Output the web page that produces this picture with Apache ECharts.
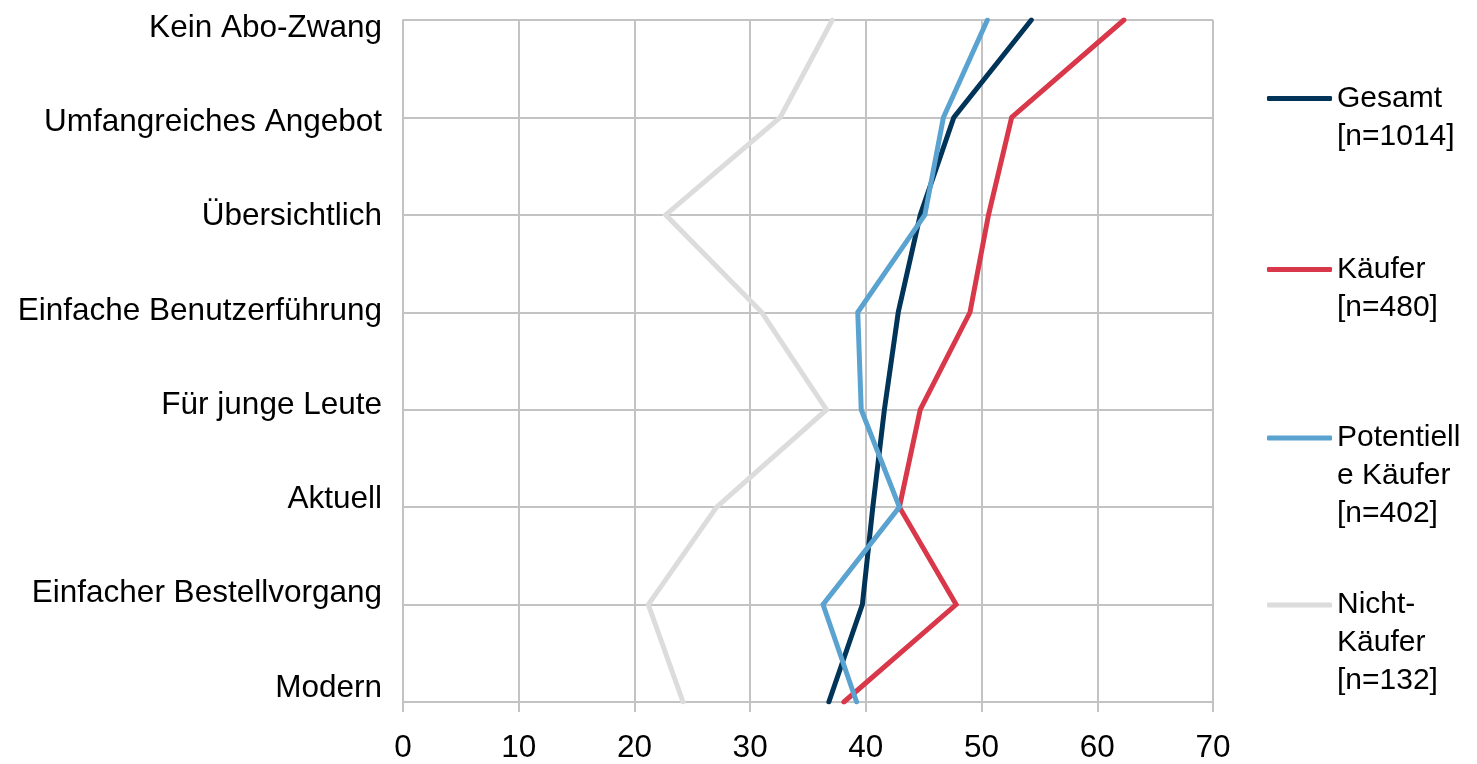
<!DOCTYPE html>
<html>
<head>
<meta charset="utf-8">
<script src="https://cdn.jsdelivr.net/npm/echarts@6/dist/echarts.min.js"></script>
<style>
html,body{margin:0;padding:0;background:#fff;}
#c{width:1477px;height:764px;}
</style>
</head>
<body>
<div id="c"></div>
<script>
const categories = ["Kein Abo-Zwang","Umfangreiches Angebot","Übersichtlich","Einfache Benutzerführung","Für junge Leute","Aktuell","Einfacher Bestellvorgang","Modern"];
const xTicks = [0,10,20,30,40,50,60,70];
const gesamt = [54.3,47.6,44.7,42.8,41.6,40.6,39.7,36.8];
const kaeufer = [62.3,52.6,50.6,49.0,44.7,42.9,47.8,38.1];
const potentielle = [50.5,46.7,45.1,39.3,39.6,42.9,36.3,39.2];
const nichtKaeufer = [37.1,32.6,22.7,31.0,36.6,27.1,21.2,24.2];
const seriesNames = ["Gesamt","Käufer","Potentielle Käufer","Nicht-Käufer"];
const legendLines = [["Gesamt","[n=1014]"],["Käufer","[n=480]"],["Potentiell","e Käufer","[n=402]"],["Nicht-","Käufer","[n=132]"]];
const colors = ["#003458","#d9384a","#5aa3d1","#dcdcdc"];

const FONT = "'Liberation Sans', Arial, sans-serif";
const chart = echarts.init(document.getElementById('c'));
const dataSets = [gesamt,kaeufer,potentielle,nichtKaeufer];
const legendTops = [41.5,212.5,343,510];
const LH = 38;

const legends = seriesNames.map((n,i)=>{
  const lines = legendLines[i];
  const blanks = lines.length-1;
  return {
    data:[n], left:1267, top: legendTops[i], padding:0, orient:'vertical',
    icon:'roundRect', itemWidth:65, itemHeight:5, itemGap:6,
    selectedMode:false,
    textStyle:{fontFamily:FONT,fontSize:30,color:'#000',lineHeight:LH},
    formatter: ()=> Array(blanks).fill(' ').concat(lines).join('\n')
  };
});

// vertical shift of each category label (label layout of the original)
const rich = {};
categories.forEach((c,i)=>{
  const d = 8 - i*3.14;
  rich['r'+i] = {fontFamily:FONT,fontSize:31.5,color:'#000',
    padding: d>=0 ? [2*d,0,0,0] : [0,0,-2*d,0]};
});

chart.setOption({
  animation:false,
  color:colors,
  grid:{left:403,right:264,top:20,bottom:60,containLabel:false},
  legend:legends,
  xAxis:{
    type:'value',min:0,max:70,interval:10,
    axisLine:{show:true,lineStyle:{color:'#c3c3c3',width:2}},
    axisTick:{show:true,length:10,lineStyle:{color:'#c3c3c3',width:2}},
    splitLine:{show:true,lineStyle:{color:'#c3c3c3',width:2}},
    axisLabel:{fontFamily:FONT,fontSize:31.5,color:'#000',margin:30,
      formatter:v=>xTicks.includes(v)?String(v):''}
  },
  yAxis:{
    type:'category',data:categories,inverse:true,boundaryGap:false,
    axisLine:{show:true,lineStyle:{color:'#c3c3c3',width:2}},
    axisTick:{show:false},
    splitLine:{show:true,lineStyle:{color:'#c3c3c3',width:2}},
    axisLabel:{fontFamily:FONT,fontSize:31.5,color:'#000',margin:21,rich:rich,
      formatter:(v,idx)=>'{r'+idx+'|'+v+'}'}
  },
  series:dataSets.map((d,i)=>({
    name:seriesNames[i],type:'line',data:d,symbol:'none',
    z: i===3?1:2+i,
    lineStyle:{width:5,color:colors[i],cap:'round',join:'miter'},
    itemStyle:{color:colors[i]}
  }))
});
</script>
</body>
</html>
